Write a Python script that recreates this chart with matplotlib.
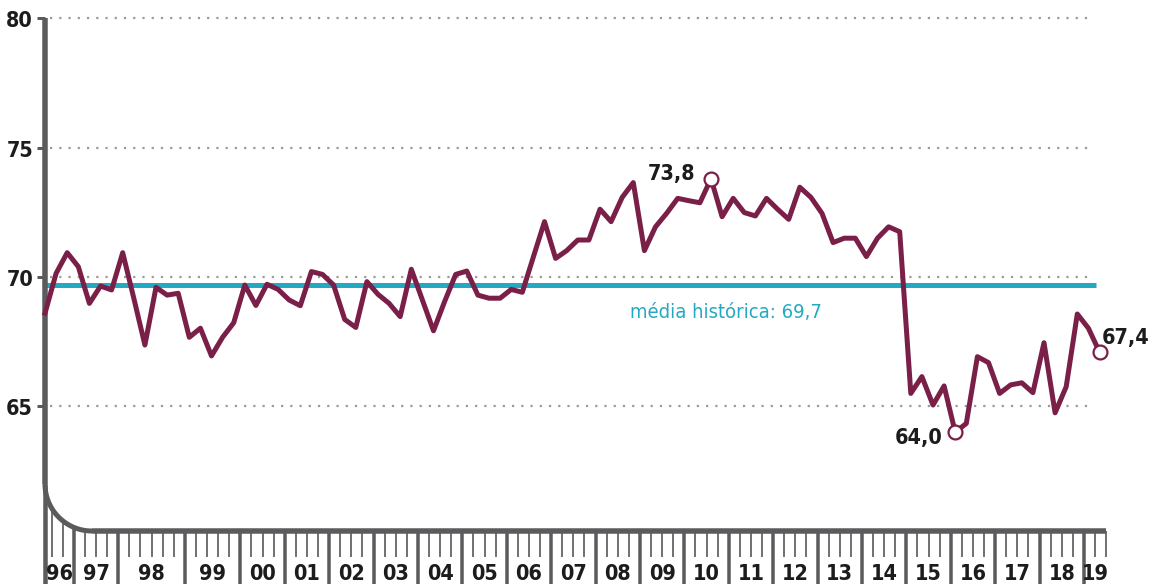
import numpy as np
import matplotlib
matplotlib.use('Agg')
import matplotlib.pyplot as plt

# one value per survey reading, 1996 -> 2019
values = [68.6, 70.14, 70.94, 70.4, 68.98, 69.65, 69.5, 70.94, 69.18, 67.37,
          69.6, 69.3, 69.37, 67.67, 68.02, 66.95, 67.67, 68.23, 69.69, 68.9,
          69.72, 69.52, 69.11, 68.89, 70.21, 70.1, 69.69, 68.36, 68.05, 69.82,
          69.33, 68.98, 68.47, 70.3, 69.11, 67.92, 69.05, 70.1, 70.23, 69.3,
          69.18, 69.18, 69.52, 69.41, 70.78, 72.14, 70.72, 71.02, 71.43, 71.43,
          72.62, 72.14, 73.08, 73.65, 71.02, 71.94, 72.46, 73.04, 72.95, 72.87,
          73.8, 72.33, 73.04, 72.49, 72.36, 73.04, 72.62, 72.23, 73.47, 73.08,
          72.46, 71.33, 71.5, 71.5, 70.79, 71.5, 71.94, 71.75, 65.5, 66.15,
          65.05, 65.79, 64.0, 64.34, 66.92, 66.69, 65.5, 65.83, 65.91, 65.53,
          67.46, 64.75, 65.76, 68.57, 68.02, 67.1]
years = ['96', '97', '98', '99', '00', '01', '02', '03', '04', '05', '06', '07',
         '08', '09', '10', '11', '12', '13', '14', '15', '16', '17', '18', '19']
per_year = [3, 4, 6, 5] + [4] * 19 + [2]
yticks = [65, 70, 75, 80]
mean_value = 69.7
mean_label = 'média histórica: 69,7'
highlights = [60, 82, 95]
highlight_labels = ['73,8', '64,0', '67,4']

MAROON = '#7a1f47'
TEAL = '#25a9c2'
AXIS = '#5b5b5d'
TEXT = '#1c1c1c'
GRID = '#9a9a9a'

plt.rcParams['font.family'] = ['DejaVu Sans']
plt.rcParams['font.stretch'] = 'condensed'

W, H = 1156, 584
# pixel layout of the reference
PX_X0, PX_DX = 45, 11.1
PX_Y70, PX_DY = 277, 25.87


def ix(px):
    return (px - PX_X0) / PX_DX


def vy(py):
    return 70 - (py - PX_Y70) / PX_DY


def pt(px):
    return px * 0.72


x = np.arange(len(values))

fig = plt.figure(figsize=(W / 100, H / 100), dpi=100)
ax = fig.add_axes([0, 0, 1, 1])
ax.set_xlim(ix(0), ix(W))
ax.set_ylim(vy(H), vy(0))
ax.axis('off')

# dotted grid + small stubs on the axis
ax.hlines(yticks, ix(50), ix(1090), colors=GRID, lw=pt(2.2),
          linestyles=[(0, (1, 3.2))], zorder=1)
ax.hlines(yticks, ix(37), 0, colors=AXIS, lw=pt(3), zorder=3)
for v in yticks:
    ax.text(ix(33), v - 3 / PX_DY, str(v), ha='right', va='center',
            fontsize=15.5, fontweight='bold', color=TEXT)

# left axis with rounded corner into the bottom axis
r = 47
cx, cy = PX_X0 + r, 531 - r
ax.plot([0, 0], [80, vy(cy)], color=AXIS, lw=pt(5.5), solid_capstyle='butt', zorder=3)
ax.plot([0, 0], [vy(cy), vy(H)], color=AXIS, lw=pt(4.5), solid_capstyle='butt', zorder=3)
t = np.linspace(0, np.pi / 2, 60)
ax.plot(ix(cx - r * np.cos(t)), vy(cy + r * np.sin(t)), color=AXIS, lw=pt(5),
        solid_capstyle='butt', zorder=3)
tick_x = np.arange(1, len(values) + 1) - 0.4
ax.plot([ix(cx), tick_x[-1]], [vy(531), vy(531)], color=AXIS, lw=pt(5.5),
        solid_capstyle='butt', zorder=3)

starts = np.cumsum([0] + per_year)
is_major = np.isin(np.arange(1, len(values) + 1), starts[1:-1])
tick_px = PX_X0 + tick_x * PX_DX
top_px = np.where(tick_px < cx, cy + np.sqrt(np.clip(r ** 2 - (cx - tick_px) ** 2, 0, None)), 531)
ax.vlines(tick_x[~is_major], vy(top_px[~is_major]), vy(557), colors=AXIS, lw=pt(1.7), zorder=3)
ax.vlines(tick_x[is_major], vy(top_px[is_major]), vy(H), colors=AXIS, lw=pt(3.5), zorder=3)

# year labels between the major ticks
edges = np.concatenate([[0], starts[1:-1] - 0.4, [tick_x[-1]]])
for lab, a, b in zip(years, edges[:-1], edges[1:]):
    ax.text((a + b) / 2, vy(574), lab, ha='center', va='center',
            fontsize=15.5, fontweight='bold', color=TEXT)

# historical mean
ax.hlines(mean_value, 0, ix(1096), colors=TEAL, lw=pt(5), zorder=2)
ax.text(ix(630), vy(318), mean_label, ha='left', va='baseline',
        fontsize=14.5, color=TEAL)

# series
ax.plot(x, values, color=MAROON, lw=pt(5), solid_joinstyle='round', zorder=4)
offsets = [(-11.5, -0.7, 'right'), (-9.5, -8.3, 'right'), (1.5, 5.8, 'left')]
for i, lab, (dx, dy, ha) in zip(highlights, highlight_labels, offsets):
    ax.plot(x[i], values[i], 'o', ms=10, mfc='white', mec=MAROON, mew=1.6, zorder=5)
    ax.annotate(lab, (x[i], values[i]), xytext=(dx, dy), textcoords='offset points',
                ha=ha, va='baseline', fontsize=15.5, fontweight='bold', color=TEXT)

fig.savefig('out.png', dpi=100)
